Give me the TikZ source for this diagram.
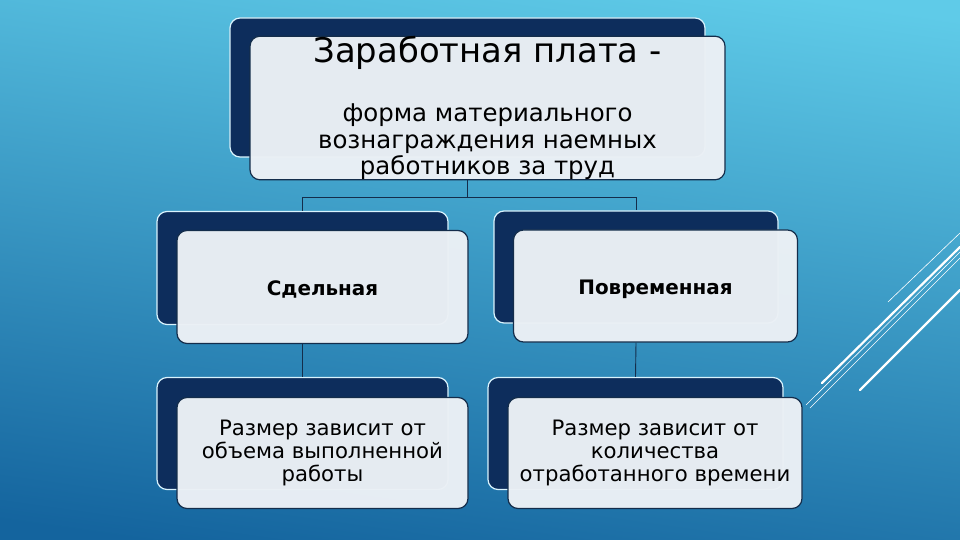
\documentclass[tikz,border=0pt]{standalone}
\usepackage{fontspec}
\setmainfont{DejaVu Sans}
\usetikzlibrary{calc}
\begin{document}
\begin{tikzpicture}[x=1bp,y=-1bp,
  darkbox/.style={draw=cyan!15!white, line width=1.2bp, fill=navyd, rounded corners=10bp, inner sep=0pt},
  lightbox/.style={draw=navyl, line width=1.2bp, fill=lightf, fill opacity=0.975, text opacity=1, rounded corners=10bp, inner sep=0pt, align=center, text=black},
  conn/.style={draw=navyl, line width=0.9bp},
  deco/.style={draw=white, line cap=round}
]
\definecolor{navyd}{RGB}{13,45,92}
\definecolor{navyl}{RGB}{20,45,75}
\definecolor{lightf}{RGB}{235,240,245}
\definecolor{bgtop}{RGB}{95,203,232}
\definecolor{bgbot}{RGB}{20,100,158}
\useasboundingbox (0,0) rectangle (960,540);
\shade[top color=bgtop, bottom color=bgbot, shading angle=-8] (-20,-20) rectangle (980,560);

% decorative lines
\draw[deco, line width=2.2bp] (822,383) -- (960,247);
\draw[deco, line width=2.2bp] (860,390) -- (960,290);
\draw[deco, line width=0.6bp] (888,302) -- (960,233);
\draw[deco, line width=0.6bp] (806,405) -- (960,252);
\draw[deco, line width=0.6bp] (810,408) -- (960,258);

% top
\node[darkbox, minimum width=475bp, minimum height=139bp] (dtop) at (467.5,87.5) {};
\node[lightbox, minimum width=475bp, minimum height=139bp, font=\fontsize{24.5}{26.5}\selectfont] (top) at (487.5,108)
  {{\fontsize{34}{36}\selectfont Заработная плата -}\\[33bp]форма материального\\вознаграждения наемных\\работников за труд};

% middle
\node[darkbox, minimum width=291bp, minimum height=113bp] (dml) at (302.5,268) {};
\node[lightbox, minimum width=291bp, minimum height=113bp, text height=20bp, text depth=2bp, font=\bfseries\fontsize{20}{22}\selectfont] (ml) at (322.5,287) {Сдельная};
\node[darkbox, minimum width=284bp, minimum height=112bp] (dmr) at (636,267) {};
\node[lightbox, minimum width=284bp, minimum height=112bp, text height=20bp, text depth=2bp, font=\bfseries\fontsize{20}{22}\selectfont] (mr) at (655.5,286) {Повременная};

% bottom
\node[darkbox, minimum width=291bp, minimum height=112bp] (dbl) at (302.5,433.5) {};
\node[lightbox, minimum width=291bp, minimum height=111bp, font=\fontsize{21.3}{23.5}\selectfont] (bl) at (322.5,453)
  {Размер зависит от\\объема выполненной\\работы};
\node[darkbox, minimum width=295bp, minimum height=112bp] (dbr) at (635.5,433.5) {};
\node[lightbox, minimum width=294bp, minimum height=111bp, font=\fontsize{21.3}{23.5}\selectfont] (br) at (655,453)
  {Размер зависит от\\количества\\отработанного времени};

% connectors
\coordinate (split) at ($(dtop.south |- top.south)+(0,17)$);
\draw[conn] (dtop.south |- top.south) -- (split);
\draw[conn] (split) -| (dml.north);
\draw[conn] (split) -| (dmr.north);
\draw[conn] (dml.south |- ml.south) -- (dbl.north);
\draw[conn] (dmr.south |- mr.south) -- (dbr.north);
\end{tikzpicture}
\end{document}
